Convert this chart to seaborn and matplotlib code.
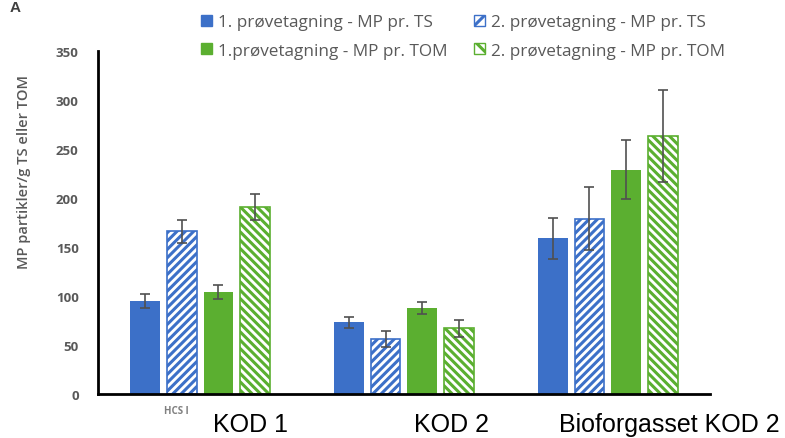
import matplotlib
matplotlib.use("Agg")
import matplotlib.pyplot as plt
import matplotlib.transforms as mtransforms
from matplotlib.patches import Patch
import seaborn as sns
import pandas as pd

# Data
categories = ["KOD 1", "KOD 2", "Bioforgasset KOD 2"]
series = [
    "1. prøvetagning - MP pr. TS",
    "2. prøvetagning - MP pr. TS",
    "1.prøvetagning - MP pr. TOM",
    "2. prøvetagning - MP pr. TOM",
]
ts_1 = [95, 73, 159]
ts_2 = [166, 56, 179]
tom_1 = [104, 88, 229]
tom_2 = [191, 67, 263]
err_ts_1 = [7, 6, 21]
err_ts_2 = [12, 8, 32]
err_tom_1 = [7, 6, 30]
err_tom_2 = [13, 9, 47]
y_ticks = [0, 50, 100, 150, 200, 250, 300, 350]

values = [ts_1, ts_2, tom_1, tom_2]
errors = [err_ts_1, err_ts_2, err_tom_1, err_tom_2]

rows = []
for s, vals in zip(series, values):
    for c, v in zip(categories, vals):
        rows.append({"kategori": c, "serie": s, "verdi": v})
df = pd.DataFrame(rows)

blue = "#3C70C8"
green = "#5BAF30"
colors = [blue, blue, green, green]
hatches = [None, "////", None, "\\\\\\\\"]
grey_text = "#595959"
sans = ["Open Sans", "DejaVu Sans"]

sns.set_style("white")
plt.rcParams["font.family"] = ["Liberation Sans", "DejaVu Sans"]
plt.rcParams["hatch.linewidth"] = 2.2

fig = plt.figure(figsize=(7.85, 4.39), dpi=100)
ax = fig.add_axes([0.125, 0.1002, 0.779, 0.7813])

sns.barplot(data=df, x="kategori", y="verdi", hue="serie", order=categories,
            hue_order=series, palette=colors, width=0.72, gap=0.19,
            errorbar=None, legend=False, ax=ax, saturation=1)

for container, col, hatch, errs in zip(ax.containers, colors, hatches, errors):
    xs, hs = [], []
    for bar in container:
        if hatch:
            bar.set_facecolor("white")
            bar.set_edgecolor(col)
            bar.set_hatch(hatch)
            bar.set_linewidth(1.2)
        else:
            bar.set_edgecolor(col)
            bar.set_linewidth(0)
        xs.append(bar.get_x() + bar.get_width() / 2)
        hs.append(bar.get_height())
    ax.errorbar(xs, hs, yerr=errs, fmt="none", ecolor="#505050",
                elinewidth=1.2, capsize=3.5, capthick=1.2, zorder=5)

ax.set_xlim(-0.5, 2.5)
ax.set_ylim(0, 350)
ax.set_yticks(y_ticks)
ax.set_yticklabels([str(t) for t in y_ticks], fontsize=9.5, fontweight="bold",
                   color=grey_text, family=sans)
ax.tick_params(axis="y", length=0, pad=14)
ax.tick_params(axis="x", length=0, pad=10)
ax.set_xlabel("")
ax.set_ylabel("MP partikler/g TS eller TOM", fontsize=10.5, fontweight="semibold",
              color=grey_text, family=sans)
ax.yaxis.set_label_coords(-0.11, 0.65)

ax.set_xticks(range(len(categories)))
ax.set_xticklabels(categories, fontsize=18, color="black")
label_shift_px = [50, 48, 62]
for lab, dx in zip(ax.get_xticklabels(), label_shift_px):
    lab.set_transform(lab.get_transform() +
                      mtransforms.ScaledTranslation(dx / 100, -4 / 100, fig.dpi_scale_trans))

for side in ["top", "right"]:
    ax.spines[side].set_visible(False)
for side in ["left", "bottom"]:
    ax.spines[side].set_color("black")
    ax.spines[side].set_linewidth(2)

fig.text(176 / 785, 1 - 412 / 439, "HCS l", fontsize=7, fontweight="bold",
         color="#808080", ha="center", va="center", family=sans)
fig.text(0.012, 0.998, "A", fontsize=11, fontweight="bold",
         color="#404040", ha="left", va="top")

handles = [
    Patch(facecolor=blue, edgecolor=blue, label=series[0]),
    Patch(facecolor=green, edgecolor=green, label=series[2]),
    Patch(facecolor="white", edgecolor=blue, hatch="//", label=series[1]),
    Patch(facecolor="white", edgecolor=green, hatch="\\\\", label=series[3]),
]
fig.legend(handles=handles, ncol=2, loc="upper left",
           bbox_to_anchor=(186 / 785, 1.0), frameon=False,
           prop={"family": sans, "size": 12.3},
           labelcolor=grey_text, handlelength=0.65, handleheight=0.65,
           handletextpad=0.35, columnspacing=1.5, labelspacing=0.72)

fig.savefig("out.png", dpi=100)
